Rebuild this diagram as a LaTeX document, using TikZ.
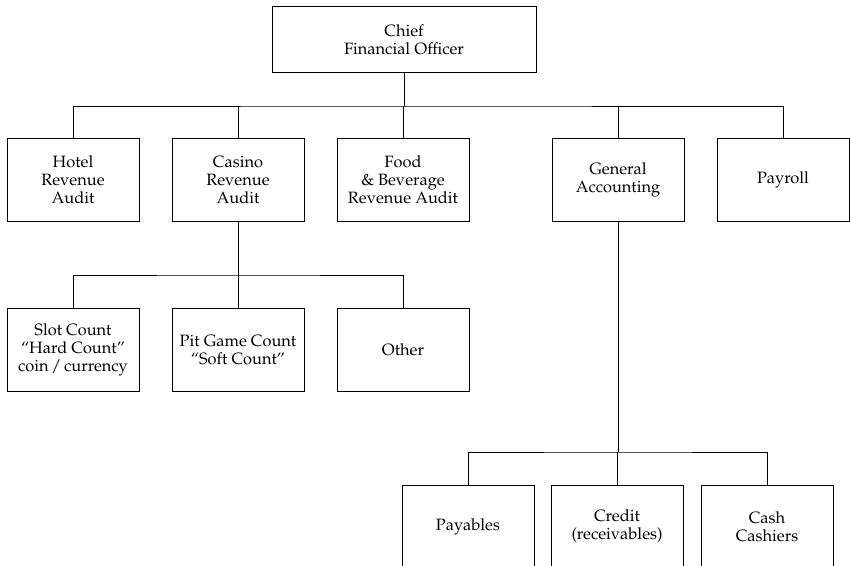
\documentclass[tikz,border=0pt]{standalone}
\usepackage[T1]{fontenc}
\usepackage{mathpazo}
\begin{document}
\begin{tikzpicture}[x=1pt,y=-1pt,
  unit/.style={draw,line width=0.9pt,minimum width=132pt,minimum height=83pt,
    inner sep=2pt,align=center,font=\fontsize{16.4}{18}\selectfont},
  link/.style={line width=0.9pt}]
\clip (0,0) rectangle (850,565);
\useasboundingbox (0,0) rectangle (850,565);

% top of the hierarchy
\node[unit,minimum width=264pt,minimum height=66pt] (cfo) at (404,39.5) {Chief\\Financial Officer};

% departments reporting to the CFO
\node[unit] (hotel)   at (73,179.5)  {Hotel\\Revenue\\Audit};
\node[unit] (casino)  at (238,179.5) {Casino\\Revenue\\Audit};
\node[unit] (food)    at (403,179.5) {Food\\\& Beverage\\Revenue Audit};
\node[unit] (genacc)  at (618,179.5) {General\\Accounting};
\node[unit] (payroll) at (783,179.5) {Payroll};

% casino revenue audit sections
\node[unit] (slot)  at (73,350)  {Slot Count\\``Hard Count''\\coin\,/\,currency};
\node[unit] (pit)   at (238,350) {Pit Game Count\\``Soft Count''};
\node[unit] (other) at (403,350) {Other};

% general accounting sections
\node[unit] (pay)    at (468,526.5) {Payables};
\node[unit] (credit) at (617,526.5) {Credit\\(receivables)};
\node[unit] (cash)   at (767,526.5) {Cash\\Cashiers};

% bus lines
\coordinate (b1) at (404,106);
\coordinate (b2) at (238,275);
\coordinate (b3) at (618,452);

\draw[link] (cfo.south) -- (b1);
\draw[link] (hotel.north) |- (b1) -| (payroll.north);
\draw[link] (casino.north) -- (casino.north |- b1);
\draw[link] (food.north) -- (food.north |- b1);
\draw[link] (genacc.north) -- (genacc.north |- b1);

\draw[link] (casino.south) -- (b2);
\draw[link] (slot.north) |- (b2) -| (other.north);
\draw[link] (pit.north) -- (b2);

\draw[link] (genacc.south) -- (b3);
\draw[link] (pay.north) |- (b3) -| (cash.north);
\draw[link] (credit.north) -- (credit.north |- b3);
\end{tikzpicture}
\end{document}
